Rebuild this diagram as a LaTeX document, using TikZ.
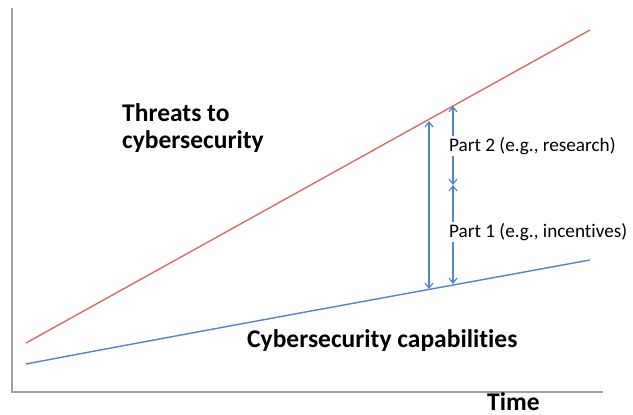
\documentclass[tikz,border=0pt]{standalone}
\usepackage{fontspec}
\setmainfont{Carlito}[Ligatures=NoCommon]
\usetikzlibrary{arrows.meta}
\definecolor{threatred}{RGB}{214,108,104}
\definecolor{capblue}{RGB}{84,130,196}
\definecolor{axisgrey}{RGB}{160,160,160}
\tikzset{
  axisline/.style={draw=axisgrey, line width=1.6pt},
  redline/.style={draw=threatred, line width=1.4pt},
  blueline/.style={draw=capblue, line width=1.4pt},
  gaparrow/.style={draw=capblue, line width=1.2pt, {Straight Barb[length=5pt,width=8pt]}-{Straight Barb[length=5pt,width=8pt]}},
  biglabel/.style={font=\fontsize{25.5}{30}\selectfont\bfseries, inner sep=0pt, anchor=base west},
  partlabel/.style={font=\fontsize{19.2}{22}\selectfont, fill=white, inner sep=1pt, anchor=west},
}
\begin{document}
\begin{tikzpicture}[x=1pt,y=-1pt]
\useasboundingbox (0,0) rectangle (633,415);
% axes
\coordinate (otop) at (12,8);
\coordinate (orig) at (12,392);
\coordinate (xend) at (603,392);
\draw[axisline] (otop) -- (orig) -- (xend);
% lines
\coordinate (r0) at (26,343);
\coordinate (r1) at (590,30);
\draw[redline] (r0) -- (r1);
\coordinate (b0) at (26,364);
\coordinate (b1) at (100,350);
\coordinate (b2) at (300,313);
\coordinate (b3) at (590,260);
\draw[blueline] (b0) -- (b1) -- (b2) -- (b3);
% big gap arrow
\coordinate (gt) at (429,121);
\coordinate (gb) at (429,289);
\draw[gaparrow] (gt) -- (gb);
% part arrows
\coordinate (pt) at (453,106);
\coordinate (pm) at (453,185);
\coordinate (pb) at (453,284);
\draw[gaparrow] (pt) -- (pm);
\draw[gaparrow] (pm) -- (pb);
\node[partlabel] (p2) at (448,146) {Part 2 (e.g., research)};
\node[partlabel] (p1) at (448,232) {Part 1 (e.g., incentives)};
% labels
\node[biglabel] (thr1) at (122,121) {Threats to};
\node[biglabel] (thr2) at (122,148) {cybersecurity};
\node[biglabel] (cap) at (247,347) {Cybersecurity capabilities};
\node[biglabel] (time) at (487,410) {Time};
\end{tikzpicture}
\end{document}
